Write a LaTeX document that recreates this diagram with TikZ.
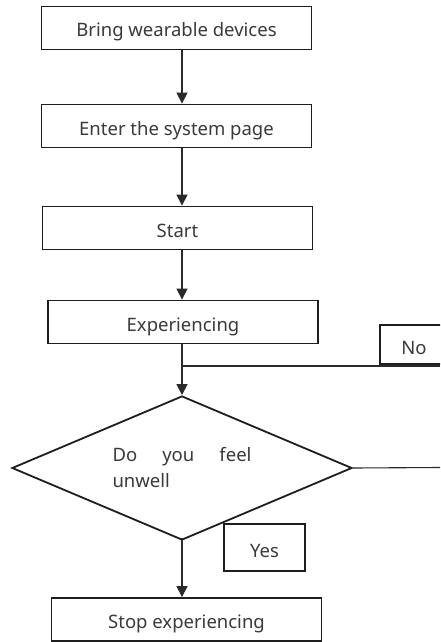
\documentclass[tikz,border=0pt]{standalone}
\usepackage{fontspec}
\setmainfont{Noto Sans}
\usetikzlibrary{arrows.meta,shapes.geometric}
\definecolor{boxc}{HTML}{1E1E1E}
\definecolor{txtc}{HTML}{3A3A3A}
\definecolor{linec}{HTML}{2A2A2A}
\begin{document}
\begin{tikzpicture}[x=1pt,y=-1pt,
  stepbox/.style={draw=boxc, line width=1.8pt, minimum width=270pt, minimum height=43pt,
    inner sep=0pt, text=txtc, text height=18pt, text depth=0pt,
    font=\fontsize{18.5}{20}\selectfont},
  labelbox/.style={draw=boxc, line width=1.5pt, inner sep=0pt, text=txtc,
    text height=19pt, text depth=0pt, font=\fontsize{18.5}{20}\selectfont},
  arr/.style={draw=linec, line width=1.1pt, -{Triangle[width=11pt,length=11pt]}},
  plain/.style={draw=linec, line width=1.1pt}]
\useasboundingbox (0,0) rectangle (440,642);
\clip (0,0) rectangle (440,642);
\fill[white] (0,0) rectangle (440,642);

\node[stepbox] (b1) at (176.5,28) {Bring wearable devices};
\node[stepbox] (b2) at (176.5,126) {Enter the system page};
\node[stepbox] (b3) at (177.5,228) {Start};
\node[stepbox] (b4) at (183,322) {Experiencing};
\node[diamond, draw=boxc, line width=1.8pt, minimum width=340pt, minimum height=144pt,
  aspect=2.36, inner sep=0pt, text=txtc, text width=139pt, align=left,
  font=\fontsize{18.5}{26}\selectfont] (d) at (182,468)
  {Do\hfill you\hfill feel\\unwell};
\node[labelbox, minimum width=81pt, minimum height=47pt] (yes) at (264.5,547.5) {Yes};
\node[labelbox, minimum width=68pt, minimum height=39pt] (no) at (414,344.5) {No};
\node[stepbox] (stop) at (186.5,619.5) {Stop experiencing};

\coordinate (noEnd) at (440,366);
\coordinate (rEnd) at (440,467.5);

\draw[arr] (b1.south -| d.north) -- (b2.north -| d.north);
\draw[arr] (b2.south -| d.north) -- (b3.north -| d.north);
\draw[arr] (b3.south -| d.north) -- (b4.north -| d.north);
\draw[arr] (b4.south -| d.north) -- (d.north);
\draw[plain] (noEnd) -- (noEnd -| d.north);
\draw[plain] (d.east) -- (rEnd);
\draw[arr] ([yshift=3pt]d.south) -- (stop.north -| d.south);
\end{tikzpicture}
\end{document}
